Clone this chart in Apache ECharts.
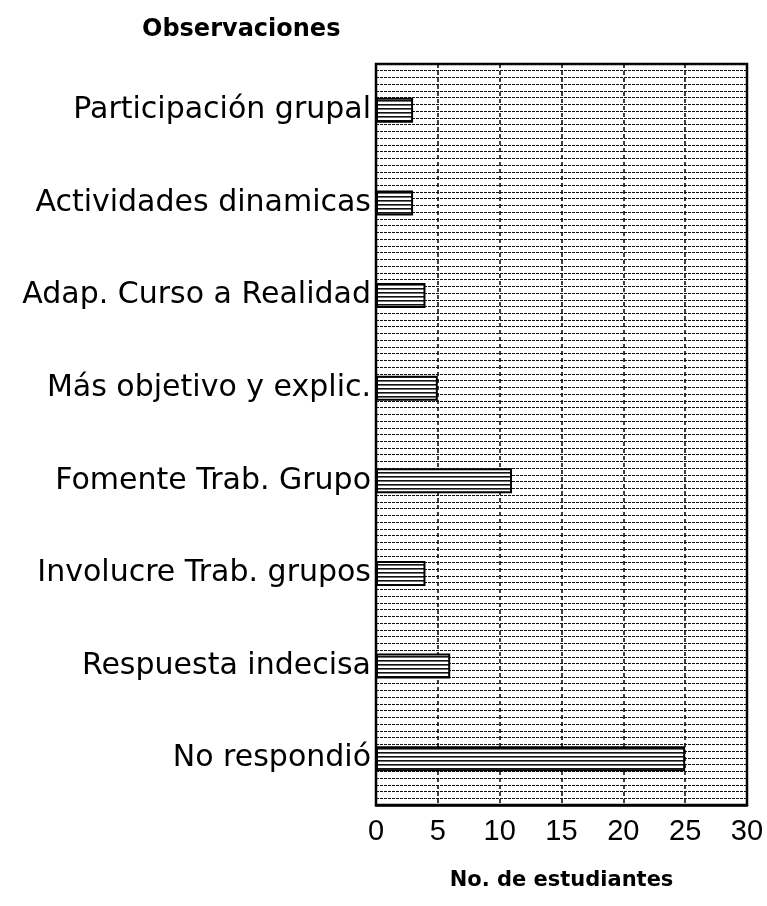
<!DOCTYPE html>
<html>
<head>
    <meta charset="utf-8">
    <title>Observaciones</title>
    <script src="https://cdn.jsdelivr.net/npm/echarts@6/dist/echarts.min.js"></script>
    <style>
        html, body { margin: 0; padding: 0; background: #fff; }
        #main { width: 767px; height: 906px; }
    </style>
</head>
<body>
    <div id="main"></div>
    <script type="text/javascript">
// categories from top to bottom
var categories = ['Participación grupal', 'Actividades dinamicas', 'Adap. Curso a Realidad',
    'Más objetivo y explic.', 'Fomente Trab. Grupo', 'Involucre Trab. grupos',
    'Respuesta indecisa', 'No respondió'];
var students = [3, 3, 4, 5, 11, 4, 6, 25];
var xTicks = [0, 5, 10, 15, 20, 25, 30];

// striped fill for the bars (horizontal black lines)
function stripes() {
    var c = document.createElement('canvas');
    c.width = 4; c.height = 4;
    var ctx = c.getContext('2d');
    ctx.fillStyle = '#fff';
    ctx.fillRect(0, 0, 4, 4);
    ctx.fillStyle = '#111';
    ctx.fillRect(0, 0, 4, 1.6);
    return c;
}

var myChart = echarts.init(document.getElementById('main'));
var option = {
    backgroundColor: '#fff',
    animation: false,
    title: {
        text: 'Observaciones',
        left: 137,
        top: 13,
        textStyle: { fontFamily: 'DejaVu Sans', fontWeight: 'bold', fontSize: 24, color: '#000' }
    },
    grid: {
        left: 376, right: 20, top: 64, bottom: 101,
        show: true, borderColor: '#000', borderWidth: 2.5, backgroundColor: 'transparent'
    },
    xAxis: {
        type: 'value',
        min: xTicks[0], max: xTicks[xTicks.length - 1], interval: 5,
        name: 'No. de estudiantes',
        nameLocation: 'middle',
        nameGap: 65,
        nameTextStyle: { fontFamily: 'DejaVu Sans', fontWeight: 'bold', fontSize: 21, color: '#000' },
        axisLine: { show: true, lineStyle: { color: '#000', width: 2.5 } },
        axisTick: { show: false },
        axisLabel: { fontFamily: 'Liberation Sans', fontSize: 29, color: '#000', margin: 12 },
        splitLine: { show: true, lineStyle: { color: '#000', width: 1.5, type: [4, 3] } }
    },
    yAxis: [{
        type: 'category',
        data: categories,
        inverse: true,
        axisLine: { show: false },
        axisTick: { show: false },
        axisLabel: { fontFamily: 'DejaVu Sans', fontSize: 30, color: '#000', margin: 5 },
        splitLine: { show: false }
    }, {
        // dense dotted background rules
        type: 'value',
        min: 0, max: 110, interval: 1,
        axisLine: { show: false },
        axisTick: { show: false },
        axisLabel: { show: false },
        splitLine: { show: true, lineStyle: { color: '#111', width: 1.2, type: [3, 1] } }
    }],
    series: [{
        type: 'bar',
        yAxisIndex: 0,
        data: students,
        barWidth: '27%',
        itemStyle: {
            color: { image: stripes(), repeat: 'repeat' },
            borderColor: '#000',
            borderWidth: 2
        }
    }]
};
myChart.setOption(option);
    </script>
</body>
</html>
